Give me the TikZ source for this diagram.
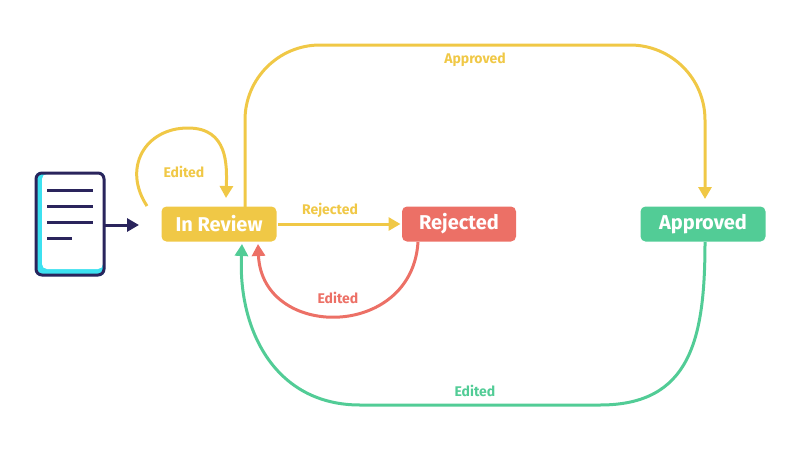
\documentclass[tikz,border=0pt]{standalone}
\usepackage{fontspec}
\setmainfont{Fira Sans}
\usetikzlibrary{arrows.meta}
\definecolor{yellow1}{RGB}{240, 200, 70}
\definecolor{red1}{RGB}{236, 112, 102}
\definecolor{green1}{RGB}{82, 204, 150}
\definecolor{navy1}{RGB}{42, 36, 92}
\definecolor{cyan1}{RGB}{60, 225, 240}

\begin{document}
\begin{tikzpicture}[x=1pt, y=-1pt, line width=3pt,
  state/.style={rounded corners=5pt, minimum width=#1, minimum height=35pt,
    text=white, font=\fontsize{20}{20}\selectfont\bfseries, inner sep=0pt},
  lbl/.style={font=\fontsize{14}{14}\selectfont\bfseries},
  arr/.style={-{Triangle[length=12pt,width=13pt]}}]
  \useasboundingbox (0,0) rectangle (800,450);

  \node[state=115pt, fill=yellow1] (review) at (219,224) {In Review};
  \node[state=114pt, fill=red1] (rejected) at (459,224) {Rejected};
  \node[state=125pt, fill=green1] (approved) at (703,224) {Approved};

  % document icon
  \fill[cyan1, rounded corners=6pt] (35,172) rectangle (105,276);
  \fill[white, rounded corners=5pt] (42,174) rectangle (103,269);
  \draw[navy1, rounded corners=6pt] (36,173) rectangle (104,275);
  \foreach \y/\len in {190/66, 206/66, 222/66, 238/45}
    \draw[navy1] (47,\y) -- ++(\len-20,0);
  \coordinate (docr) at (104,225);
  \coordinate (doct) at (139,225);
  \draw[navy1, arr] (docr) -- (doct);

  % self loop
  \coordinate (loop) at (147,206);
  \coordinate (loopt) at (226,198);
  \draw[yellow1, arr] (loop) .. controls (122,168) and (145,128) .. (188,128)
    .. controls (228,128) and (227,165) .. (loopt);
  \node[lbl, text=yellow1] (e1) at (184,172) {Edited};

  % approved
  \coordinate (a1) at (245,207);
  \coordinate (a2) at (705,199);
  \draw[yellow1, arr, rounded corners=75pt] (a1) -- (245,45) -- (705,45) -- (a2);
  \node[lbl, text=yellow1] (e2) at (475,60) {Approved};

  % rejected
  \draw[yellow1, arr] (review.east) -- (rejected.west);
  \node[lbl, text=yellow1] (e3) at (330,210) {Rejected};

  % edited from rejected
  \coordinate (r1) at (418,242);
  \coordinate (r2) at (258,244);
  \draw[red1, arr] (r1) .. controls (412,340) and (262,340) .. (r2);
  \node[lbl, text=red1] (e4) at (338,298) {Edited};

  % edited from approved
  \coordinate (g1) at (705,242);
  \coordinate (g2) at (242,244);
  \draw[green1, arr] (g1) .. controls (705,340) and (690,405) .. (600,405)
    -- (360,405) .. controls (275,405) and (238,330) .. (g2);
  \node[lbl, text=green1] (e5) at (475,391) {Edited};
\end{tikzpicture}
\end{document}
